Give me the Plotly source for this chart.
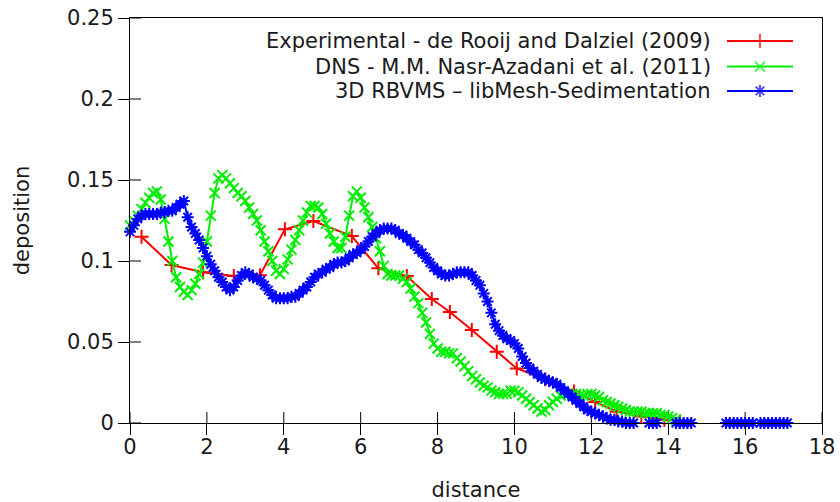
import plotly.graph_objects as go

# ---------------- data ----------------
exp_x = [0.3, 1.08, 1.9, 2.7, 3.38, 4.03, 4.77, 5.77, 6.46, 7.2, 7.85, 8.32, 8.89,
         9.54, 10.06, 10.8, 11.55, 12.1, 12.66, 13.3, 13.9, 14.3]
exp_y = [0.115, 0.0975, 0.093, 0.0907, 0.0912, 0.1196, 0.1247, 0.1154, 0.0955, 0.0907,
         0.0765, 0.0685, 0.0574, 0.044, 0.0337, 0.027, 0.0195, 0.013, 0.007, 0.004,
         0.002, 0.001]

dns_y = [0.122, 0.125, 0.128, 0.132, 0.136, 0.139, 0.142, 0.143, 0.138, 0.126,
         0.112, 0.100, 0.090, 0.084, 0.081, 0.079, 0.082, 0.086, 0.092, 0.099,
         0.112, 0.128, 0.142, 0.151, 0.153, 0.151, 0.148, 0.145, 0.142, 0.140,
         0.137, 0.133, 0.129, 0.125, 0.119, 0.112, 0.106, 0.100, 0.094, 0.092,
         0.095, 0.101, 0.107, 0.113, 0.119, 0.125, 0.130, 0.134, 0.134, 0.133,
         0.129, 0.123, 0.117, 0.112, 0.108, 0.108, 0.115, 0.128, 0.140, 0.143,
         0.139, 0.133, 0.127, 0.121, 0.114, 0.106, 0.097, 0.092, 0.091, 0.091,
         0.091, 0.089, 0.087, 0.083, 0.078, 0.074, 0.068, 0.062, 0.055, 0.049,
         0.046, 0.044, 0.044, 0.043, 0.043, 0.040, 0.038, 0.035, 0.032, 0.029,
         0.027, 0.025, 0.023, 0.022, 0.020, 0.019, 0.018, 0.018, 0.018, 0.020,
         0.020, 0.019, 0.017, 0.015, 0.013, 0.011, 0.009, 0.007, 0.008, 0.011,
         0.013, 0.015, 0.017, 0.018, 0.018, 0.018, 0.018, 0.017, 0.017, 0.018,
         0.018, 0.017, 0.016, 0.014, 0.013, 0.012, 0.011, 0.010, 0.009, 0.008,
         0.007, 0.007, 0.007, 0.007, 0.006, 0.006, 0.006, 0.006, 0.005, 0.005,
         0.004, 0.003, 0.002]
dns_x = [round(0.1 * i, 1) for i in range(len(dns_y))]

rb_head_y = [0.118, 0.122, 0.126, 0.128, 0.129, 0.129, 0.129, 0.129, 0.130, 0.130,
             0.131, 0.131, 0.133, 0.135, 0.137, 0.127, 0.121, 0.117, 0.113, 0.108,
             0.103, 0.098, 0.094, 0.090, 0.087, 0.084, 0.082, 0.084, 0.088, 0.091,
             0.093, 0.092, 0.090, 0.089, 0.088, 0.085, 0.082, 0.079, 0.077, 0.077,
             0.077, 0.077, 0.078, 0.078, 0.080, 0.082, 0.084, 0.087, 0.090, 0.092,
             0.093, 0.095, 0.096, 0.098, 0.099, 0.099, 0.100, 0.102, 0.104, 0.105,
             0.107, 0.109, 0.112, 0.115, 0.117, 0.119, 0.120, 0.120, 0.120, 0.119,
             0.117, 0.116, 0.114, 0.112, 0.110, 0.107, 0.105, 0.102, 0.099, 0.096,
             0.094, 0.092, 0.091, 0.091, 0.092, 0.093, 0.093, 0.093, 0.093, 0.091,
             0.088, 0.085, 0.080, 0.075, 0.068, 0.061, 0.057, 0.054, 0.052, 0.051,
             0.049, 0.046, 0.041, 0.037, 0.034, 0.032, 0.030, 0.028, 0.027, 0.026,
             0.025, 0.024, 0.022, 0.020, 0.018, 0.016, 0.014, 0.012, 0.010, 0.008,
             0.007, 0.006, 0.005, 0.004, 0.003, 0.002, 0.002, 0.001, 0.001, 0.0,
             0.0, 0.0]
rb_head_x = [round(0.1 * i, 1) for i in range(len(rb_head_y))]
rb_tail_x = [None, 13.5, 13.6, 13.7, None, 14.2, 14.3, 14.4, 14.5, 14.6, None,
             15.5, 15.6, 15.7, 15.8, 15.9, 16.0, 16.1, 16.2, None,
             16.4, 16.5, 16.6, 16.7, 16.8, 16.9, 17.0, 17.1]
rb_tail_y = [None, 0.0, 0.0, 0.0, None, 0.0, 0.0, 0.0, 0.0, 0.0, None,
             0.0, 0.0, 0.0, 0.0, 0.0, 0.0, 0.0, 0.0, None,
             0.0, 0.0, 0.0, 0.0, 0.0, 0.0, 0.0, 0.0]
rb_x = rb_head_x + rb_tail_x
rb_y = rb_head_y + rb_tail_y

series_names = ["Experimental - de Rooij and Dalziel (2009)",
                "DNS - M.M. Nasr-Azadani et al. (2011)",
                "3D RBVMS \u2013 libMesh-Sedimentation"]
x_ticks = [0, 2, 4, 6, 8, 10, 12, 14, 16, 18]
y_ticks = [0, 0.05, 0.1, 0.15, 0.2, 0.25]
y_tick_text = ["0", "0.05", "0.1", "0.15", "0.2", "0.25"]
X_RANGE = [0, 18]
Y_RANGE = [0, 0.25]

# ---------------- layout / style ----------------
W, H = 840, 502
M = dict(l=130, r=18, t=18, b=79)
PLOT_W = W - M["l"] - M["r"]
PLOT_H = H - M["t"] - M["b"]
FONT = "DejaVu Sans"
FS = 21
TXT = "#1a1a1a"
TICKLEN = 11
colors = ["#ff0000", "#00ee00", "#0000ff"]
symbols = ["cross-thin", "x-thin", "asterisk"]

fig = go.Figure()

# inner halves of gnuplot's crossing ticks, built from the tick arrays
tx_len = TICKLEN * (Y_RANGE[1] - Y_RANGE[0]) / PLOT_H
ty_len = TICKLEN * (X_RANGE[1] - X_RANGE[0]) / PLOT_W
tick_x, tick_y = [], []
for v in x_ticks:
    tick_x += [v, v, None]
    tick_y += [Y_RANGE[0], Y_RANGE[0] + tx_len, None]
for v in y_ticks:
    tick_x += [X_RANGE[0], X_RANGE[0] + ty_len, None]
    tick_y += [v, v, None]
fig.add_trace(go.Scatter(x=tick_x, y=tick_y, mode="lines", showlegend=False,
                         hoverinfo="skip", line=dict(color="black", width=1)))

datasets = [(exp_x, exp_y), (dns_x, dns_y), (rb_x, rb_y)]
for (xs, ys), c, s in zip(datasets, colors, symbols):
    fig.add_trace(go.Scatter(
        x=xs, y=ys, mode="lines+markers", showlegend=False, cliponaxis=False,
        line=dict(color=c, width=2),
        marker=dict(symbol=s, size=10, color=c, line=dict(color=c, width=2)),
    ))

# gnuplot-style key (text right-aligned, sample line to its right)
key_fy = [0.943, 0.880, 0.820]          # fractions of plot height
key_fx0, key_fx1 = 0.8627, 0.958         # fractions of plot width
def fx(f):
    return X_RANGE[0] + f * (X_RANGE[1] - X_RANGE[0])
def fy(f):
    return Y_RANGE[0] + f * (Y_RANGE[1] - Y_RANGE[0])

for name, c, s, ky in zip(series_names, colors, symbols, key_fy):
    fig.add_trace(go.Scatter(
        x=[fx(key_fx0), fx((key_fx0 + key_fx1) / 2), fx(key_fx1)],
        y=[fy(ky)] * 3,
        mode="lines+markers", showlegend=False, hoverinfo="skip", cliponaxis=False,
        line=dict(color=c, width=2),
        marker=dict(symbol=s, size=[0, 10, 0], color=c, line=dict(color=c, width=2)),
    ))
    fig.add_annotation(
        xref="paper", yref="paper", x=0.8425, y=ky, xanchor="right", yanchor="middle",
        text=name, showarrow=False, font=dict(family=FONT, size=FS, color=TXT),
    )

axis_common = dict(showgrid=False, zeroline=False, linecolor="black", linewidth=1,
                   tickcolor="black", tickwidth=1, ticklen=TICKLEN, automargin=False)

fig.update_layout(
    width=W, height=H,
    margin=M,
    paper_bgcolor="white", plot_bgcolor="white",
    font=dict(family=FONT, size=FS, color=TXT),
    xaxis=dict(range=X_RANGE, tickvals=x_ticks, ticktext=[str(v) for v in x_ticks],
               ticks="outside", showline=True, mirror=True, ticklabelstandoff=-6,
               title=dict(text="distance", standoff=24,
                          font=dict(family=FONT, size=FS, color=TXT)),
               tickfont=dict(family=FONT, size=FS, color=TXT), **axis_common),
    yaxis=dict(range=Y_RANGE, tickvals=y_ticks, ticktext=y_tick_text,
               ticks="outside", showline=True, mirror=True,
               title=dict(text="deposition", standoff=31,
                          font=dict(family=FONT, size=FS, color=TXT)),
               tickfont=dict(family=FONT, size=FS, color=TXT), **axis_common),
)

fig.write_html("out.html")
